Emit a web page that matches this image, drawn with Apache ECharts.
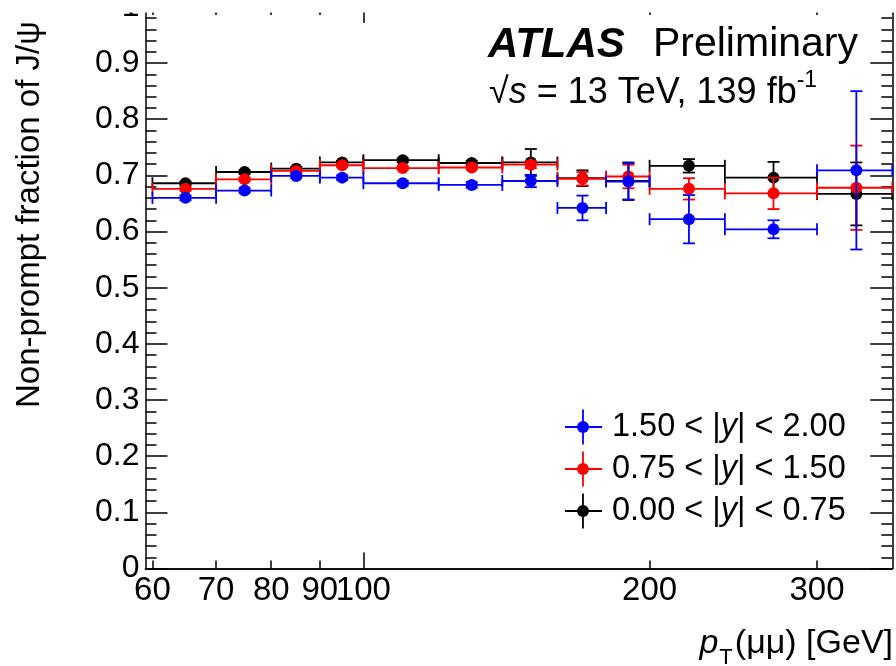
<!DOCTYPE html>
<html><head><meta charset="utf-8">
<script src="https://cdn.jsdelivr.net/npm/echarts@6/dist/echarts.min.js"></script>
<style>html,body{margin:0;padding:0;background:#fff}#c{width:896px;height:666px}</style>
</head><body><div id="c"></div>
<script>
// ---- data ----
const binLow    = [60, 70, 80, 90, 100, 120, 140, 160, 180, 200, 240, 300];
const binHigh   = [70, 80, 90, 100, 120, 140, 160, 180, 200, 240, 300, 360];
const binCenter = [65, 75, 85, 95, 110, 130, 150, 170, 190, 220, 270, 330];
// 1.50 < |y| < 2.00
const blueVal = [0.660, 0.673, 0.699, 0.696, 0.686, 0.683, 0.690, 0.642, 0.689, 0.622, 0.604, 0.709];
const blueErr = [0.004, 0.004, 0.004, 0.004, 0.004, 0.005, 0.011, 0.022, 0.033, 0.043, 0.016, 0.141];
// 0.75 < |y| < 1.50
const redVal  = [0.676, 0.693, 0.708, 0.718, 0.713, 0.714, 0.719, 0.694, 0.698, 0.676, 0.668, 0.678];
const redErr  = [0.003, 0.003, 0.003, 0.003, 0.003, 0.003, 0.006, 0.012, 0.021, 0.019, 0.028, 0.075];
// 0.00 < |y| < 0.75
const blackVal = [0.686, 0.706, 0.712, 0.723, 0.727, 0.722, 0.723, 0.695, 0.690, 0.717, 0.696, 0.667];
const blackErr = [0.003, 0.003, 0.003, 0.003, 0.003, 0.004, 0.024, 0.014, 0.033, 0.012, 0.028, 0.056];
const seriesNames = ['1.50 < |y| < 2.00', '0.75 < |y| < 1.50', '0.00 < |y| < 0.75'];
const xLabelTicks = [60, 70, 80, 90, 100, 200, 300];
const xShortTicks = [60, 70, 80, 90, 200, 300];
const xLongTicks  = [100];
const xMin = 59, xMax = 360;
const yMin = 0, yMax = 1.0, yStep = 0.1;

// ---- chart ----
const FONT = '"Liberation Sans", Arial, Helvetica, sans-serif';
const lg = v => Math.log10(v);
const chart = echarts.init(document.getElementById('c'), null, {renderer: 'canvas'});

function rows(vals, errs) {
  return vals.map((v, i) => [lg(binCenter[i]), lg(binLow[i]), lg(binHigh[i]), v, errs[i]]);
}
function renderErr(color) {
  return function (params, api) {
    const xc = api.value(0), xl = api.value(1), xh = api.value(2), y = api.value(3), e = api.value(4);
    const pc = api.coord([xc, y]);
    const pl = api.coord([xl, y]);
    const ph = api.coord([xh, y]);
    const pt = api.coord([xc, y + e]);
    const pb = api.coord([xc, y - e]);
    const cap = 6, r = 6;
    const ls = {stroke: color, lineWidth: 1.8};
    return {
      type: 'group',
      children: [
        {type: 'line', shape: {x1: pl[0], y1: pc[1], x2: ph[0], y2: pc[1]}, style: ls},
        {type: 'line', shape: {x1: pl[0], y1: pc[1] - cap, x2: pl[0], y2: pc[1] + cap}, style: ls},
        {type: 'line', shape: {x1: ph[0], y1: pc[1] - cap, x2: ph[0], y2: pc[1] + cap}, style: ls},
        {type: 'line', shape: {x1: pc[0], y1: pt[1], x2: pc[0], y2: pb[1]}, style: ls},
        {type: 'line', shape: {x1: pc[0] - cap, y1: pt[1], x2: pc[0] + cap, y2: pt[1]}, style: ls},
        {type: 'line', shape: {x1: pc[0] - cap, y1: pb[1], x2: pc[0] + cap, y2: pb[1]}, style: ls},
        {type: 'circle', shape: {cx: pc[0], cy: pc[1], r: r}, style: {fill: color}}
      ]
    };
  };
}

const axisLineStyle = {color: '#000', width: 1.5};
function xAx(pos, ticks, len, labels) {
  return {
    type: 'value', position: pos, min: lg(xMin), max: lg(xMax),
    axisLine: {show: true, onZero: false, lineStyle: axisLineStyle},
    axisTick: {show: true, inside: true, length: len, customValues: ticks.map(lg), lineStyle: axisLineStyle},
    axisLabel: labels ? {
      show: true, customValues: xLabelTicks.map(lg), margin: 6,
      formatter: v => String(Math.round(Math.pow(10, v))),
      fontFamily: FONT, fontSize: 33, color: '#000'
    } : {show: false},
    splitLine: {show: false}
  };
}
function yAx(pos, labels) {
  return {
    type: 'value', position: pos, min: yMin, max: yMax, interval: yStep,
    axisLine: {show: true, onZero: false, lineStyle: axisLineStyle},
    axisTick: {show: true, inside: true, length: 22, lineStyle: axisLineStyle},
    minorTick: {show: true, splitNumber: 5, length: 11, lineStyle: axisLineStyle},
    axisLabel: labels ? {
      show: true, margin: 6, fontFamily: FONT, fontSize: 32, color: '#000',
      formatter: v => String(Math.round(v * 10) / 10)
    } : {show: false},
    splitLine: {show: false}
  };
}

const colors = ['#0000ff', '#ff0000', '#000000'];
const legendRows = [427, 469, 511];
const legendGraphics = [];
seriesNames.forEach((name, i) => {
  const cy = legendRows[i], cx = 583, col = colors[i];
  legendGraphics.push(
    {type: 'line', z: 101, shape: {x1: 565, y1: cy, x2: 602, y2: cy}, style: {stroke: col, lineWidth: 1.8}},
    {type: 'line', z: 101, shape: {x1: cx, y1: cy - 17.5, x2: cx, y2: cy + 17.5}, style: {stroke: col, lineWidth: 1.8}},
    {type: 'circle', z: 101, shape: {cx: cx, cy: cy, r: 6}, style: {fill: col}},
    {type: 'text', z: 101, x: 612, y: cy, style: {
      text: name.replace('|y|', '|{i|y}|'), fontFamily: FONT, fontSize: 32.5, fill: '#000',
      verticalAlign: 'middle', align: 'left',
      rich: {i: {fontStyle: 'italic', fontFamily: FONT, fontSize: 32.5}}
    }}
  );
});

chart.setOption({
  animation: false,
  backgroundColor: '#fff',
  grid: {left: 145.5, right: 3.7, top: 6.9, bottom: 97.5, containLabel: false, outerBoundsMode: 'none'},
  xAxis: [
    xAx('bottom', xShortTicks, 8, true),
    xAx('bottom', xLongTicks, 16, false),
    xAx('top', xShortTicks, 8, false),
    xAx('top', xLongTicks, 16, false)
  ],
  yAxis: [yAx('left', true), yAx('right', false)],
  series: [
    {type: 'custom', name: seriesNames[2], data: rows(blackVal, blackErr), renderItem: renderErr(colors[2]), encode: {x: [0, 1, 2], y: [3]}, z: 3},
    {type: 'custom', name: seriesNames[1], data: rows(redVal, redErr), renderItem: renderErr(colors[1]), encode: {x: [0, 1, 2], y: [3]}, z: 4},
    {type: 'custom', name: seriesNames[0], data: rows(blueVal, blueErr), renderItem: renderErr(colors[0]), encode: {x: [0, 1, 2], y: [3]}, z: 5}
  ],
  graphic: [
    {type: 'rect', z: 100, zlevel: 1, shape: {x: 0, y: 0, width: 896, height: 12.5}, style: {fill: '#fff'}},
    {type: 'text', z: 101, x: 488, y: 45, style: {text: 'ATLAS', font: 'italic bold 42px ' + FONT, fill: '#000', verticalAlign: 'middle'}},
    {type: 'text', z: 101, x: 858, y: 45, style: {text: 'Preliminary', font: '41px ' + FONT, fill: '#000', align: 'right', verticalAlign: 'middle'}},
    {type: 'text', z: 101, x: 489, y: 90, style: {
      text: '{n|√}{i|s}{n| = 13 TeV, 139 fb}{sup|-1}', verticalAlign: 'middle',
      rich: {
        n: {fontFamily: FONT, fontSize: 36, lineHeight: 42, verticalAlign: 'bottom', fill: '#000'},
        i: {fontFamily: FONT, fontSize: 36, fontStyle: 'italic', lineHeight: 42, verticalAlign: 'bottom', fill: '#000'},
        sup: {fontFamily: FONT, fontSize: 23, lineHeight: 23, verticalAlign: 'top', fill: '#000'}
      }
    }},
    {type: 'text', z: 101, x: 30, y: 408, rotation: Math.PI / 2, style: {
      text: 'Non-prompt fraction of J/ψ', fontFamily: FONT, fontSize: 33, fill: '#000',
      align: 'left', verticalAlign: 'middle'
    }},
    {type: 'text', z: 101, x: 893, y: 648, style: {
      text: '{i|p}{sub|T}{n|(μμ) [GeV]}', align: 'right', verticalAlign: 'middle',
      rich: {
        n: {fontFamily: FONT, fontSize: 34, lineHeight: 42, verticalAlign: 'top', fill: '#000'},
        i: {fontFamily: FONT, fontSize: 34, fontStyle: 'italic', lineHeight: 42, verticalAlign: 'top', fill: '#000'},
        sub: {fontFamily: FONT, fontSize: 22, lineHeight: 22, verticalAlign: 'bottom', padding: [0, 2, 0, 1], fill: '#000'}
      }
    }}
  ].concat(legendGraphics)
});
</script>
</body></html>
